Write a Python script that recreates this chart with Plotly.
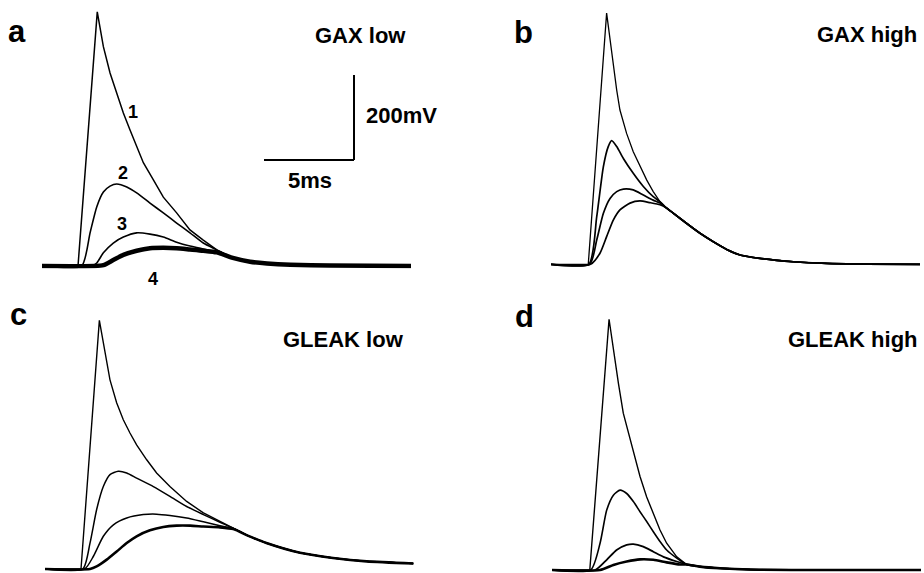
import plotly.graph_objects as go

# ---------------- data (time in ms, membrane potential in mV) ----------------
# Panel a: GAX low
A1_T = [0, 2.0, 3.07, 3.41, 3.78, 4.15, 4.52, 4.89, 5.26, 5.63, 6.18, 6.74, 7.48, 8.22, 8.96, 9.71]
A1_V = [0, 0, 598, 516, 454, 407, 360, 320, 280, 243, 203, 162, 125, 85, 61, 38]
A2_T = [0, 2.2, 2.67, 3.04, 3.41, 3.78, 4.15, 4.71, 5.26, 6.0, 6.74, 7.48, 8.22, 8.96, 9.71]
A2_V = [0, 0, 78, 139, 174, 188, 193, 186, 172, 148, 125, 101, 78, 54, 38]
A3_T = [0, 2.75, 3.04, 3.41, 3.96, 4.52, 5.26, 6.0, 6.74, 7.48, 8.22, 8.96, 9.71]
A3_V = [0, 0, 7, 31, 54, 68, 78, 75, 68, 56, 47, 40, 33]
A4_T = [0, 2.9, 3.41, 3.96, 4.52, 5.26, 6.0, 6.74, 7.48, 8.22, 8.96, 9.71]
A4_V = [0, 0, 2, 14, 26, 36, 42, 43, 42, 39, 36, 32]
A_TAIL_T = [10.6, 11.56, 12.5, 13.8, 16.0, 20.5]
A_TAIL_V = [19, 10, 6, 3, 1, 0]

# Panel b: GAX high
B1_T = [0, 2.07, 3.09, 3.28, 3.46, 3.65, 3.83, 4.2, 4.57, 4.94, 5.32, 5.68, 6.06]
B1_V = [0, 0, 591, 528, 465, 410, 363, 308, 265, 230, 198, 171, 147]
B2_T = [0, 2.1, 2.54, 2.91, 3.18, 3.37, 3.65, 4.02, 4.57, 5.13, 5.68, 6.06]
B2_V = [0, 0, 112, 230, 277, 291, 277, 249, 214, 183, 159, 147]
B3_T = [0, 2.15, 2.54, 2.91, 3.28, 3.65, 4.02, 4.57, 5.13, 5.68, 6.06]
B3_V = [0, 0, 57, 120, 155, 171, 177, 175, 163, 151, 144]
B4_T = [0, 2.2, 2.72, 3.09, 3.46, 3.83, 4.39, 4.94, 5.5, 6.06]
B4_V = [0, 0, 26, 65, 104, 128, 144, 149, 145, 140]
B_TAIL_T = [6.4, 6.8, 7.54, 8.28, 9.02, 9.76, 10.5, 11.6, 13.46, 15.3, 17.5, 20.5]
B_TAIL_V = [133, 120, 96, 73, 53, 35, 22, 14, 6, 2, 0.5, 0]

# Panel c: GLEAK low
C1_T = [0, 2.0, 3.02, 3.24, 3.43, 3.61, 3.98, 4.35, 4.72, 5.09, 5.65, 6.2, 6.94, 7.87, 8.8, 9.72, 10.46]
C1_V = [0, 0, 585, 532, 485, 445, 391, 351, 320, 292, 257, 226, 194, 159, 132, 112, 96]
C2_T = [0, 2.1, 2.5, 2.87, 3.24, 3.61, 4.07, 4.54, 5.09, 6.02, 6.94, 7.87, 8.8, 9.72, 10.46]
C2_V = [0, 0, 61, 140, 194, 222, 230, 226, 214, 194, 171, 147, 128, 110, 96]
C3_T = [0, 2.2, 2.69, 3.24, 3.8, 4.54, 5.46, 6.2, 6.94, 7.87, 8.8, 9.72, 10.46]
C3_V = [0, 0, 30, 77, 104, 120, 128, 129, 126, 120, 111, 102, 95]
C4_T = [0, 2.5, 2.87, 3.43, 3.98, 4.54, 5.09, 5.83, 6.57, 7.31, 8.06, 8.8, 9.72, 10.46]
C4_V = [0, 0, 6, 22, 41, 61, 77, 91, 99, 102, 102, 100, 98, 94]
C_TAIL_T = [11.3, 12.3, 14.17, 16.0, 17.87, 20.46]
C_TAIL_V = [78, 61, 38, 26, 18, 13]

# Panel d: GLEAK high
D1_T = [0, 2.1, 3.17, 3.41, 3.69, 3.96, 4.24, 4.52, 4.89, 5.26, 5.63, 6.0, 6.37, 6.93]
D1_V = [0, 0, 590, 518, 439, 369, 322, 275, 220, 172, 133, 94, 63, 31]
D2_T = [0, 2.15, 2.67, 3.04, 3.41, 3.78, 4.15, 4.52, 4.89, 5.26, 5.63, 6.0, 6.37, 6.93]
D2_V = [0, 0, 63, 141, 176, 188, 180, 161, 137, 114, 90, 67, 47, 28]
D3_T = [0, 2.4, 3.04, 3.59, 4.15, 4.52, 5.07, 5.63, 6.19, 6.93]
D3_V = [0, 0, 24, 47, 59, 61, 55, 43, 31, 20]
D4_T = [0, 2.67, 3.41, 4.15, 4.89, 5.63, 6.37, 7.11]
D4_V = [0, 0, 12, 20, 25, 24, 18, 13]
D_TAIL_T = [7.48, 8.22, 9.33, 11.0, 20.5]
D_TAIL_V = [13, 8, 4, 1, 0]

PANEL_LETTERS = ["a", "b", "c", "d"]
PANEL_TITLES = ["GAX low", "GAX high", "GLEAK low", "GLEAK high"]
CURVE_LABELS = ["1", "2", "3", "4"]
SCALE_TIME_MS = 5
SCALE_VOLT_MV = 200
SCALE_TIME_LABEL = "5ms"
SCALE_VOLT_LABEL = "200mV"

# ---------------- layout helpers ----------------
W, H = 924, 573
PX_PER_MS = 18.0
PX_PER_MV = 85.0 / 200.0
T_MAX = 20.5
V_MIN, V_MAX = -6, 612

panels = [
    dict(curves=[(A1_T, A1_V), (A2_T, A2_V), (A3_T, A3_V), (A4_T, A4_V)], tail=(A_TAIL_T, A_TAIL_V),
         left=42, base=266, widths=[1.5, 1.6, 1.6, 4.5]),
    dict(curves=[(B1_T, B1_V), (B2_T, B2_V), (B3_T, B3_V), (B4_T, B4_V)], tail=(B_TAIL_T, B_TAIL_V),
         left=551, base=264.3, widths=[1.3, 1.7, 1.7, 1.7]),
    dict(curves=[(C1_T, C1_V), (C2_T, C2_V), (C3_T, C3_V), (C4_T, C4_V)], tail=(C_TAIL_T, C_TAIL_V),
         left=45, base=569, widths=[1.4, 1.5, 1.5, 2.6]),
    dict(curves=[(D1_T, D1_V), (D2_T, D2_V), (D3_T, D3_V), (D4_T, D4_V)], tail=(D_TAIL_T, D_TAIL_V),
         left=552, base=570, widths=[1.4, 1.6, 1.8, 2.6]),
]

fig = go.Figure()
layout = dict(width=W, height=H, margin=dict(l=0, r=0, t=0, b=0),
              paper_bgcolor="white", plot_bgcolor="white", showlegend=False)

for i, p in enumerate(panels):
    n = "" if i == 0 else str(i + 1)
    x0 = p["left"] / W
    x1 = (p["left"] + T_MAX * PX_PER_MS) / W
    y0 = 1 - (p["base"] - V_MIN * PX_PER_MV) / H
    y1 = 1 - (p["base"] - V_MAX * PX_PER_MV) / H
    layout["xaxis" + n] = dict(domain=[x0, min(x1, 1.0)], range=[0, T_MAX], visible=False,
                               fixedrange=True, anchor="y" + n)
    layout["yaxis" + n] = dict(domain=[max(y0, 0.0), min(y1, 1.0)], range=[V_MIN, V_MAX], visible=False,
                               fixedrange=True, anchor="x" + n)
    tt, tv = p["tail"]
    for j, (t, v) in enumerate(p["curves"]):
        shape = "linear" if j == 0 else "spline"
        fig.add_trace(go.Scatter(
            x=list(t) + list(tt), y=list(v) + list(tv), mode="lines",
            line=dict(color="black", width=p["widths"][j], shape=shape, smoothing=0.6),
            xaxis="x" + n, yaxis="y" + n, hoverinfo="skip"))

fig.update_layout(**layout)

# scale bar in panel a (data units of panel a)
sb_t0 = (264 - 42) / PX_PER_MS
sb_v0 = (266 - 160) / PX_PER_MV
fig.add_shape(type="line", xref="x", yref="y", x0=sb_t0, x1=sb_t0 + SCALE_TIME_MS, y0=sb_v0, y1=sb_v0,
              line=dict(color="black", width=2))
fig.add_shape(type="line", xref="x", yref="y", x0=sb_t0 + SCALE_TIME_MS, x1=sb_t0 + SCALE_TIME_MS,
              y0=sb_v0, y1=sb_v0 + SCALE_VOLT_MV, line=dict(color="black", width=2))


def ann(text, xpx, ypx, size, xanchor="center"):
    fig.add_annotation(text="<b>%s</b>" % text, x=xpx / W, y=1 - ypx / H, xref="paper", yref="paper",
                       xanchor=xanchor, yanchor="middle", showarrow=False,
                       font=dict(family="Liberation Sans, Arial, sans-serif", size=size, color="black"))


letter_pos = [(17, 31.8), (523, 32.3), (18, 314.3), (524.5, 316.3)]
title_pos = [(360, 35.7), (866.5, 34.6), (343.5, 339), (852.5, 339)]
for k in range(4):
    ann(PANEL_LETTERS[k], *letter_pos[k], 31)
    ann(PANEL_TITLES[k], *title_pos[k], 22)

ann(SCALE_VOLT_LABEL, 401, 115.5, 22)
ann(SCALE_TIME_LABEL, 310, 180.5, 22)

label_pos = [(132.5, 111.5), (123, 172.5), (122, 224), (153, 279)]
for k in range(4):
    ann(CURVE_LABELS[k], *label_pos[k], 18)

fig.write_html("out.html")
